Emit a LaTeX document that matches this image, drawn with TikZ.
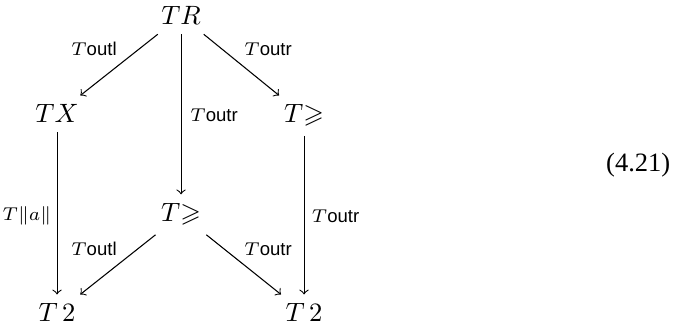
\documentclass[tikz,border=0pt]{standalone}
\usepackage{amssymb}
\usepackage{fontspec}
\setmainfont{Liberation Serif}
\setsansfont{Liberation Sans}
\usepackage{tikz}
\usetikzlibrary{arrows,positioning,calc}

\newcommand{\Tmap}[1]{$T$\textsf{#1}}

\begin{document}
\begin{tikzpicture}[
            obj/.style={anchor=base},
            lbl/.style={font=\scriptsize, inner sep=1pt, anchor=base},
        ]
            \useasboundingbox (0,0) rectangle (9.0,4.32);
            \node[obj] (TR) at (2.40,3.99) {$TR$};
            \node[obj] (TX) at (0.756,2.69) {$TX$};
            \node[obj] (Tgr) at (4.03,2.69) {$T{\geqslant}$};
            \node[obj] (Tgm) at (2.40,1.38) {$T{\geqslant}$};
            \node[obj] (T2l) at (0.756,0.053) {$T\,2$};
            \node[obj] (T2r) at (4.03,0.053) {$T\,2$};
            \node (eqno) at (8.46,2.135) {(4.21)};
            % labels
            \node[lbl] (outlA) at (1.246,3.580) {\Tmap{outl}};
            \node[lbl] (outrA) at (3.554,3.580) {\Tmap{outr}};
            \node[lbl] (outrB) at (2.838,2.712) {\Tmap{outr}};
            \node[lbl] (norm) at (0.358,1.392) {$T\|a\|$};
            \node[lbl] (outrC) at (4.449,1.366) {\Tmap{outr}};
            \node[lbl] (outlB) at (1.246,0.928) {\Tmap{outl}};
            \node[lbl] (outrD) at (3.554,0.928) {\Tmap{outr}};
            % arrows
            \draw[->] (TR) -- (TX);
            \draw[->] (TR) -- (Tgr);
            \draw[->] (TR) -- (Tgm);
            \draw[->] (TX) -- (T2l);
            \draw[->] (Tgr) -- (T2r);
            \draw[->] (Tgm) -- (T2l);
            \draw[->] (Tgm) -- (T2r);
        \end{tikzpicture}
\end{document}
